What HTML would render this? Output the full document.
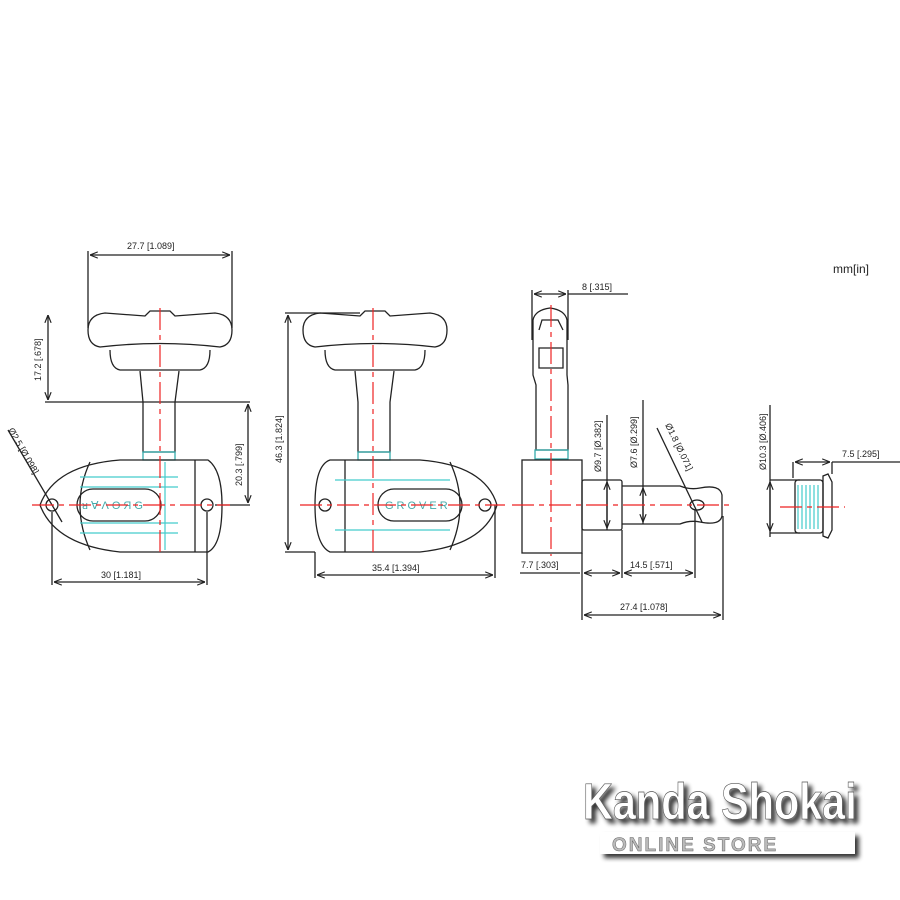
<!DOCTYPE html>
<html><head><meta charset="utf-8"><style>
html,body{margin:0;padding:0;background:#fff;width:900px;height:900px;overflow:hidden}
svg{display:block}
text{font-family:"Liberation Sans",sans-serif}
</style></head><body>
<svg width="900" height="900" viewBox="0 0 900 900" xmlns="http://www.w3.org/2000/svg">
<defs>
<marker id="a" viewBox="0 0 10 10" refX="10" refY="5" markerWidth="6" markerHeight="6" orient="auto-start-reverse"><path d="M0,1 L10,5 L0,9" fill="none" stroke="#222" stroke-width="1.5"/></marker>
<filter id="sh" x="-10%" y="-10%" width="130%" height="140%"><feGaussianBlur in="SourceAlpha" stdDeviation="2.5"/><feOffset dx="4" dy="4"/><feComponentTransfer><feFuncA type="linear" slope="0.8"/></feComponentTransfer><feMerge><feMergeNode/><feMergeNode in="SourceGraphic"/></feMerge></filter>
</defs>
<g fill="none" stroke="#222" stroke-width="1.3">
<!-- LEFT VIEW -->
<path d="M88,328 V251 M232,328 V251"/>
<line x1="90" y1="255" x2="230" y2="255" marker-start="url(#a)" marker-end="url(#a)"/>
<path d="M88,330 Q88,315 105,313 L145,316 L150,311 L170,311 L175,316 L215,313 Q232,315 232,330 Q232,345 220,347 Q160,340 100,347 Q88,345 88,330 Z"/>
<path d="M110,350 Q110,368 120,370 L200,370 Q210,368 210,350"/>
<path d="M140,371 L143,402 L143,452 L175,452 L175,402 L179,371"/>
<rect x="143" y="452" width="32" height="8" stroke="#3aa"/>
<path d="M120,460 L208,460 Q222,470 222,505 Q222,545 208,552 L120,552 Q55,545 40,505 Q55,465 120,460 Z"/>
<path d="M90,462 Q70,505 90,550"/><line x1="195" y1="460" x2="195" y2="552"/>
<rect x="77" y="489" width="84" height="32" rx="16"/>
<circle cx="52" cy="505" r="6"/><circle cx="207" cy="505" r="6"/>
<line x1="45" y1="402" x2="250" y2="402"/>
<line x1="48" y1="315" x2="48" y2="400" marker-start="url(#a)" marker-end="url(#a)"/>
<line x1="248" y1="404" x2="248" y2="503" marker-start="url(#a)" marker-end="url(#a)"/>
<line x1="215" y1="505" x2="250" y2="505"/>
<path d="M52,512 V585 M207,512 V585"/>
<line x1="54" y1="582" x2="205" y2="582" marker-start="url(#a)" marker-end="url(#a)"/>
<line x1="8" y1="430" x2="62" y2="522"/>
<!-- MIDDLE VIEW -->
<path d="M303,330 Q303,315 320,313 L360,316 L365,311 L385,311 L390,316 L430,313 Q447,315 447,330 Q447,345 435,347 Q375,340 315,347 Q303,345 303,330 Z"/>
<path d="M325,350 Q325,368 335,370 L415,370 Q425,368 425,350"/>
<path d="M355,371 L358,402 L358,452 L390,452 L390,402 L394,371"/>
<rect x="358" y="452" width="32" height="8" stroke="#3aa"/>
<path d="M330,460 L420,460 Q485,465 497,505 Q485,545 420,552 L330,552 Q315,545 315,505 Q315,465 330,460 Z"/>
<path d="M450,462 Q470,505 450,550"/><line x1="345" y1="460" x2="345" y2="552"/>
<rect x="378" y="489" width="84" height="32" rx="16"/>
<circle cx="325" cy="505" r="6"/><circle cx="485" cy="505" r="6"/>
<path d="M285,313 H360 M285,552 H315"/>
<line x1="288" y1="315" x2="288" y2="550" marker-start="url(#a)" marker-end="url(#a)"/>
<path d="M315,552 V578 M495,505 V578"/>
<line x1="317" y1="575" x2="493" y2="575" marker-start="url(#a)" marker-end="url(#a)"/>
<!-- SIDE VIEW -->
<path d="M532,340 V290 M568,340 V290 M568,294 H628"/>
<line x1="534" y1="294" x2="566" y2="294" marker-start="url(#a)" marker-end="url(#a)"/>
<path d="M533,375 L533,320 Q535,310 550,308 Q565,310 567,320 L567,375 L568,385 L568,450 L536,450 L536,385 Z"/>
<path d="M539,348 H563 V368 H539 Z M539,330 L542,320 H558 L563,330"/>
<rect x="535" y="450" width="33" height="9" stroke="#3aa"/>
<rect x="522" y="460" width="60" height="93"/>
<rect x="582" y="480" width="40" height="50" rx="2"/>
<path d="M622,486 L680,486 Q690,490 700,488 Q720,484 722,495 L722,516 Q720,526 700,522 Q690,520 680,524 L622,524"/>
<ellipse cx="697" cy="505" rx="7" ry="5"/>
<line x1="607" y1="415" x2="607" y2="530"/>
<line x1="607" y1="482" x2="607" y2="528" marker-start="url(#a)" marker-end="url(#a)"/>
<line x1="643" y1="400" x2="643" y2="524"/>
<line x1="643" y1="488" x2="643" y2="522" marker-start="url(#a)" marker-end="url(#a)"/>
<line x1="657" y1="428" x2="702" y2="522"/>
<path d="M582,553 V620 M622,530 V578 M695,510 V578 M723,516 V620"/>
<line x1="520" y1="573" x2="580" y2="573"/>
<line x1="584" y1="573" x2="620" y2="573" marker-start="url(#a)" marker-end="url(#a)"/>
<line x1="624" y1="573" x2="693" y2="573" marker-start="url(#a)" marker-end="url(#a)"/>
<line x1="584" y1="615" x2="721" y2="615" marker-start="url(#a)" marker-end="url(#a)"/>
<!-- BUSHING -->
<path d="M770,405 V537 M770,480 H800 M770,533 H800"/>
<line x1="770" y1="482" x2="770" y2="531" marker-start="url(#a)" marker-end="url(#a)"/>
<rect x="795" y="480" width="28" height="53" rx="3"/>
<path d="M823,476 L828,474 L832,482 L832,530 L828,538 L823,536 Z"/>
<path d="M793,462 V478 M832,462 V474 M832,462 H900"/>
<line x1="795" y1="462" x2="830" y2="462" marker-start="url(#a)" marker-end="url(#a)"/>
</g>
<g stroke="#4cc" stroke-width="1.2" fill="none">
<path d="M80,477 H178 M80,487 H178 M80,523 H178 M80,533 H178 M165,462 V550"/>
<path d="M335,480 H450 M335,530 H450"/>
<path d="M798,485 V529 M802,485 V529 M806,485 V529 M810,485 V529 M814,485 V529 M818,485 V529"/>
</g>
<text x="82" y="509" font-size="11" fill="#4aa" letter-spacing="3">ᴚ∀ΛOЯG</text>
<text x="385" y="509" font-size="11" fill="#4aa" letter-spacing="3">GROVER</text>
<g stroke="#e22" stroke-width="1.2" stroke-dasharray="22,5,5,5" fill="none">
<path d="M160,308 V556 M32,505 H230"/>
<path d="M373,308 V556 M300,505 H505"/>
<path d="M551,305 V556 M512,505 H730"/>
<path d="M780,507 H845"/>
</g>
<g font-size="9" fill="#222">
<text x="127" y="249">27.7 [1.089]</text>
<text transform="translate(41,381) rotate(-90)">17.2 [.678]</text>
<text transform="translate(242,486) rotate(-90)">20.3 [.799]</text>
<text transform="translate(8,430) rotate(60)">Ø2.5 [Ø.098]</text>
<text x="101" y="578">30 [1.181]</text>
<text transform="translate(282,463) rotate(-90)">46.3 [1.824]</text>
<text x="372" y="571">35.4 [1.394]</text>
<text x="582" y="290">8 [.315]</text>
<text transform="translate(601,472) rotate(-90)">Ø9.7 [Ø.382]</text>
<text transform="translate(637,468) rotate(-90)">Ø7.6 [Ø.299]</text>
<text transform="translate(665,425) rotate(64)">Ø1.8 [Ø.071]</text>
<text x="521" y="568">7.7 [.303]</text>
<text x="630" y="568">14.5 [.571]</text>
<text x="620" y="610">27.4 [1.078]</text>
<text transform="translate(766,470) rotate(-90)">Ø10.3 [Ø.406]</text>
<text x="842" y="457">7.5 [.295]</text>
<text x="833" y="273" font-size="12">mm[in]</text>
</g>
<g filter="url(#sh)">
<text x="0" y="0" font-size="46" font-weight="bold" fill="#fff" stroke="#555" stroke-width="0.6" transform="translate(583,819) scale(0.9,1.1)">Kanda Shokai</text>
<rect x="600" y="832" width="255" height="22" fill="#fff"/>
</g>
<text x="612" y="851" font-size="19" font-weight="bold" fill="#bbb" stroke="#666" stroke-width="0.5" letter-spacing="2" font-family="Liberation Serif,serif">ONLINE STORE</text>
</svg>
</body></html>
